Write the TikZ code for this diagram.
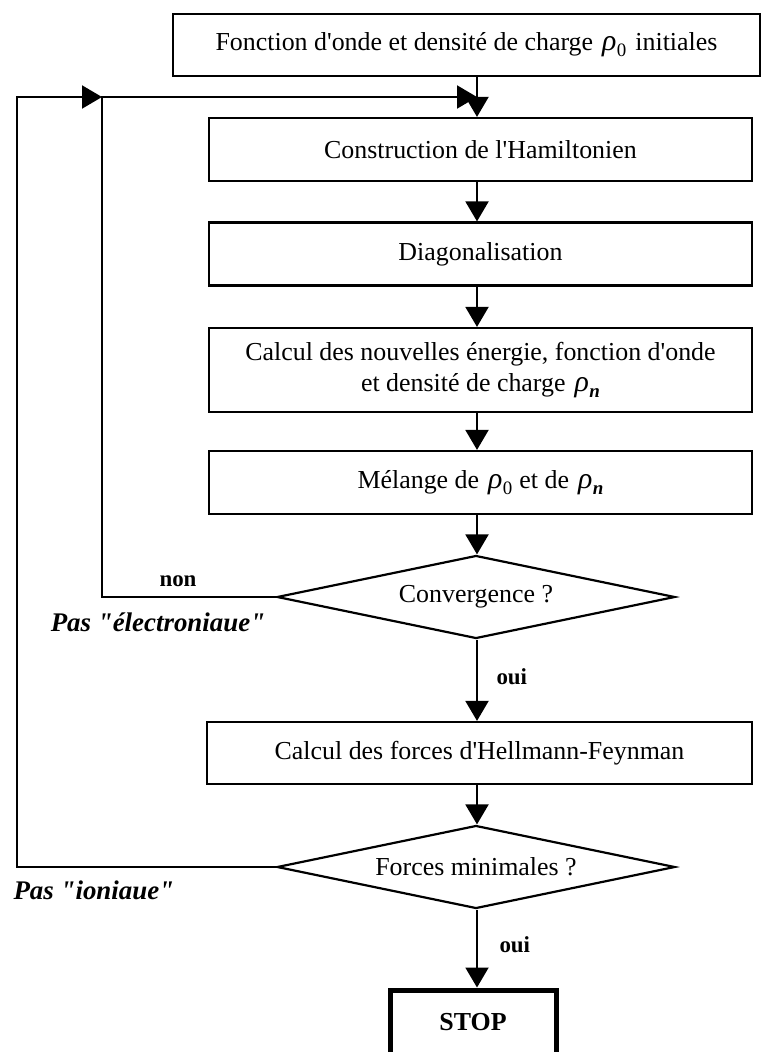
\documentclass[tikz,border=0pt]{standalone}
\usepackage{fontspec}
\setmainfont{Liberation Serif}
\usetikzlibrary{arrows.meta,shapes.geometric}
% charge density symbol with a subscript
\newcommand\rhosym[1]{{\fontsize{30}{30}\selectfont\textit{ρ}}\kern0.5bp\raisebox{-6bp}{\fontsize{19}{19}\selectfont #1}}
\newcommand\ap{\textquotesingle}
\newcommand\dq{\textquotedbl}
\begin{document}
\begin{tikzpicture}[x=1bp,y=-1bp,
  txt/.style={font=\fontsize{26}{31}\selectfont},
  procbox/.style={txt, draw, line width=2.2bp, rectangle, inner sep=0pt,
    minimum width=543bp, minimum height=63bp, align=center},
  testbox/.style={txt, draw, line width=2.2bp, diamond, inner sep=0pt,
    aspect=4.8, minimum width=398bp, minimum height=83bp},
  stopbox/.style={draw, line width=5bp, rectangle, inner sep=0pt,
    minimum width=166bp, minimum height=64bp,
    font=\fontsize{26}{30}\selectfont\bfseries},
  lbl/.style={font=\fontsize{23}{26}\selectfont\bfseries},
  steplbl/.style={font=\fontsize{27}{30}\selectfont\bfseries\itshape},
  flow/.style={line width=2bp, -{Triangle[length=20bp,width=23bp]}},
  wire/.style={line width=2bp}
]
\useasboundingbox (0,0) rectangle (762,1052);

% process steps
\node[procbox, minimum width=587bp, minimum height=62bp] (init) at (466.5,45)
  {Fonction d\ap onde et densité de charge\hspace{9bp}\rhosym{0}\hspace{9bp}initiales};
\node[procbox] (ham)  at (480.5,149.5) {Construction de l\ap Hamiltonien};
\node[procbox] (diag) at (480.5,254)   {Diagonalisation};
\node[procbox, minimum height=84bp] (calc) at (480.5,370)
  {Calcul des nouvelles énergie, fonction d\ap onde\\
   et densité de charge\hspace{9bp}\rhosym{\textbf{\textit{n}}}};
\node[procbox] (mel)  at (480.5,482.5)
  {Mélange de\hspace{9bp}\rhosym{0}\hspace{7bp}et de\hspace{9bp}\rhosym{\textbf{\textit{n}}}};
\node[testbox] (conv) at (476,597) {Convergence ?};
\node[procbox, minimum width=545bp, minimum height=62bp] (hell) at (479.5,753)
  {Calcul des forces d\ap Hellmann-Feynman};
\node[testbox] (forces) at (476,867) {Forces minimales ?};
\node[stopbox] (stop) at (473,1022) {STOP};

% main axis and loop corners
\coordinate (axis) at (477,0);
\coordinate (jr) at (477,97);
\coordinate (jl) at (102,97);
\coordinate (outer) at (17,97);

% downward flow
\draw[flow] (init.south -| axis) -- (ham.north -| axis);
\draw[flow] (ham.south -| axis) -- (diag.north -| axis);
\draw[flow] (diag.south -| axis) -- (calc.north -| axis);
\draw[flow] (calc.south -| axis) -- (mel.north -| axis);
\draw[flow] (mel.south -| axis) -- (conv.north -| axis);
\draw[flow] (conv.south -| axis) -- (hell.north -| axis);
\draw[flow] (hell.south -| axis) -- (forces.north -| axis);
\draw[flow] (forces.south -| axis) -- (stop.north -| axis);

% feedback loops
\draw[flow] (conv.west) -| (jl) -- (jr);
\draw[flow] (forces.west) -| (outer) -- (jl);

% labels
\node[lbl] (non) at (178,581) {non};
\node[steplbl] (elec) at (158,622) {Pas \dq électroniaue\dq};
\node[lbl, anchor=west] (oui1) at (493,677) {oui};
\node[lbl, anchor=west] (oui2) at (496,945) {oui};
\node[steplbl, anchor=west] (ion) at (10,890) {Pas \dq ioniaue\dq};
\end{tikzpicture}
\end{document}
